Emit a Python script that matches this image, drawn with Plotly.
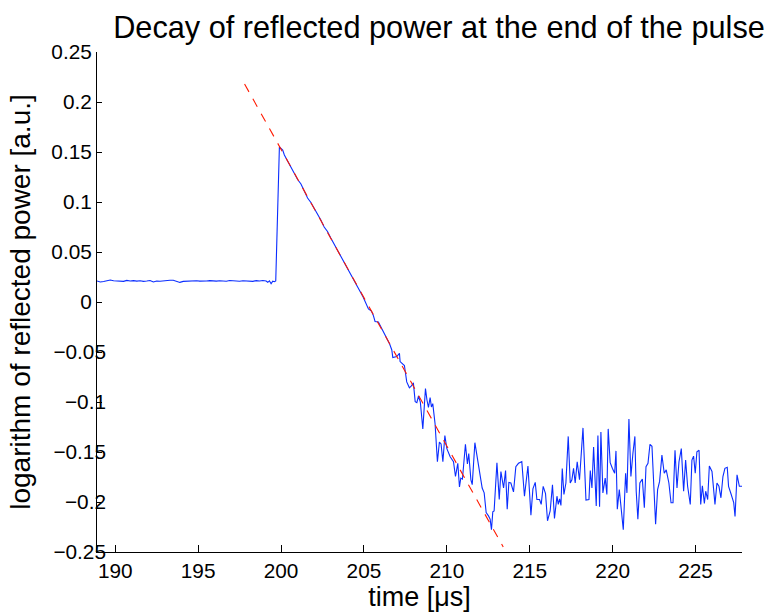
import plotly.graph_objects as go

# ---------------- data ----------------
base_t = [188.9, 189.1, 189.3, 189.5, 189.7, 189.9, 190.1, 190.3, 190.5, 190.7,
          190.9, 191.1, 191.3, 191.5, 191.7, 191.9, 192.1, 192.3, 192.5, 192.7,
          192.9, 193.1, 193.3, 193.5, 193.7, 193.9, 194.1, 194.3, 194.5, 194.7,
          194.9, 195.1, 195.3, 195.5, 195.7, 195.9, 196.1, 196.3, 196.5, 196.7,
          196.9, 197.1, 197.3, 197.5, 197.7, 197.9, 198.1, 198.3, 198.5, 198.7,
          198.9, 199.1, 199.2, 199.3, 199.4, 199.5, 199.6, 199.68]
base_y = [0.0210, 0.0200, 0.0205, 0.0215, 0.0220, 0.0212, 0.0208, 0.0210, 0.0206, 0.0216,
          0.0210, 0.0214, 0.0209, 0.0212, 0.0206, 0.0210, 0.0215, 0.0200, 0.0210, 0.0208,
          0.0213, 0.0211, 0.0217, 0.0218, 0.0208, 0.0196, 0.0206, 0.0209, 0.0212, 0.0208,
          0.0213, 0.0209, 0.0207, 0.0210, 0.0214, 0.0210, 0.0209, 0.0213, 0.0210, 0.0208,
          0.0215, 0.0210, 0.0212, 0.0207, 0.0213, 0.0209, 0.0212, 0.0206, 0.0214, 0.0210,
          0.0215, 0.0210, 0.0197, 0.0212, 0.0182, 0.0208, 0.0203, 0.0210]

decay_t = [199.9, 200.0, 200.1, 200.2, 200.4, 200.6, 200.8, 201.0, 201.2, 201.4,
           201.6, 201.8, 202.0, 202.2, 202.4, 202.6, 202.8, 203.0, 203.2, 203.4,
           203.6, 203.8, 204.0, 204.2, 204.4, 204.6, 204.77, 204.95, 205.27, 205.45,
           205.57, 205.67, 205.87, 206.17, 206.38, 206.55, 206.68, 206.74, 206.98, 207.14,
           207.18, 207.44, 207.58, 207.74, 207.86, 207.98, 208.09, 208.19, 208.29, 208.40,
           208.55, 208.71, 208.80, 208.89, 208.99, 209.07, 209.15, 209.29, 209.43, 209.55,
           209.65, 209.76, 209.88, 210.0, 210.2, 210.4, 210.52, 210.66, 210.76, 210.84,
           210.94, 211.12, 211.24, 211.32, 211.45, 211.53, 211.69, 211.85, 212.01, 212.13,
           212.25, 212.37, 212.51, 212.61, 212.69]
decay_y = [0.155, 0.1535, 0.152, 0.147, 0.141, 0.1335, 0.128, 0.1225, 0.118, 0.1115,
           0.104, 0.0995, 0.094, 0.088, 0.082, 0.075, 0.0705, 0.064, 0.058, 0.0525,
           0.0455, 0.040, 0.035, 0.028, 0.022, 0.017, 0.011, 0.005, -0.007, -0.009,
           -0.0136, -0.0195, -0.020, -0.0294, -0.0366, -0.042, -0.048, -0.0556, -0.0546, -0.0513,
           -0.0596, -0.0635, -0.0799, -0.0858, -0.084, -0.0809, -0.0996, -0.1006, -0.094, -0.100,
           -0.1269, -0.0865, -0.098, -0.1055, -0.0957, -0.105, -0.1016, -0.122, -0.1597, -0.140,
           -0.142, -0.1597, -0.1335, -0.1466, -0.1548, -0.1597, -0.1745, -0.1613, -0.185, -0.1761,
           -0.1771, -0.1423, -0.162, -0.1515, -0.1778, -0.1827, -0.1407, -0.158, -0.1712, -0.186,
           -0.1909, -0.2106, -0.2139, -0.2171, -0.2277]

noise_t = [212.77, 212.85, 213.02, 213.16, 213.26, 213.42, 213.54, 213.64, 213.74, 213.86,
           214.02, 214.16, 214.32, 214.52, 214.68, 214.89, 215.07, 215.19, 215.33, 215.43,
           215.59, 215.69, 215.81, 215.95, 216.07, 216.23, 216.37, 216.49, 216.64, 216.72,
           216.80, 216.88, 216.96, 217.06, 217.18, 217.32, 217.44, 217.54, 217.64, 217.74,
           217.86, 218.00, 218.21, 218.39, 218.57, 218.65, 218.75, 218.85, 219.01, 219.11,
           219.21, 219.29, 219.41, 219.55, 219.65, 219.73, 219.85, 219.98, 220.12, 220.20,
           220.28, 220.40, 220.52, 220.64, 220.78, 220.86, 220.98, 221.10, 221.22, 221.34,
           221.42, 221.52, 221.64, 221.79, 221.91, 222.01, 222.13, 222.25, 222.37, 222.47,
           222.59, 222.71, 222.83, 222.97, 223.11, 223.23, 223.39, 223.52, 223.64, 223.76,
           223.88, 224.00, 224.14, 224.28, 224.40, 224.52, 224.68, 224.78, 224.88, 224.98,
           225.08, 225.21, 225.31, 225.41, 225.53, 225.61, 225.73, 225.83, 225.99, 226.17,
           226.29, 226.41, 226.53, 226.65, 226.77, 226.91, 226.99, 227.14, 227.30, 227.38,
           227.50, 227.64, 227.80]
noise_y = [-0.2099, -0.209, -0.1607, -0.1975, -0.1695, -0.186, -0.1686, -0.2073, -0.1804, -0.181,
           -0.1899, -0.1646, -0.1613, -0.1597, -0.1942, -0.164, -0.2132, -0.1869, -0.1804, -0.1975,
           -0.1975, -0.2024, -0.1843, -0.1915, -0.2188, -0.209, -0.1827, -0.2165, -0.1942, -0.2024,
           -0.1968, -0.2034, -0.1666, -0.1925, -0.181, -0.1344, -0.181, -0.1778, -0.1663, -0.181,
           -0.1597, -0.1778, -0.1259, -0.1981, -0.1975, -0.1686, -0.186, -0.1449, -0.204, -0.1334,
           -0.2047, -0.1301, -0.1909, -0.1761, -0.1925, -0.1269, -0.1607, -0.1663, -0.1712, -0.1489,
           -0.2073, -0.1876, -0.205, -0.2277, -0.1712, -0.1909, -0.117, -0.1745, -0.1515, -0.1344,
           -0.1892, -0.2171, -0.181, -0.1771, -0.2057, -0.1646, -0.1613, -0.1423, -0.1443, -0.181,
           -0.2221, -0.1876, -0.1794, -0.1531, -0.1712, -0.1679, -0.181, -0.2007, -0.2007, -0.1482,
           -0.186, -0.1597, -0.1466, -0.1892, -0.158, -0.1843, -0.2024, -0.158, -0.1541, -0.1712,
           -0.1498, -0.1482, -0.2024, -0.1837, -0.2014, -0.1892, -0.1975, -0.164, -0.1695, -0.2024,
           -0.181, -0.1843, -0.1958, -0.1745, -0.1663, -0.1653, -0.1843, -0.192, -0.2007, -0.2145,
           -0.1728, -0.1843, -0.1843]

fit_t = [197.8, 213.4]
fit_y = [0.218, -0.245]

x_ticks = [190, 195, 200, 205, 210, 215, 220, 225]
y_pos_ticks = [0, 0.05, 0.1, 0.15, 0.2, 0.25]
y_pos_labels = ["0", "0.05", "0.1", "0.15", "0.2", "0.25"]
y_neg_ticks = [-0.25, -0.2, -0.15, -0.1, -0.05]
y_neg_labels = ["\u22120.25", "\u22120.2", "\u22120.15", "\u22120.1", "\u22120.05"]

title_text = "Decay of reflected power at the end of the pulse"
x_title = "time [\u03bcs]"
y_title = "logarithm of reflected power [a.u.]"

t_all = base_t + decay_t + noise_t
y_all = base_y + decay_y + noise_y

FONT = "Liberation Sans, Arial, Helvetica, sans-serif"
TICK = 20.8

fig = go.Figure()
fig.add_trace(go.Scatter(x=t_all, y=y_all, mode="lines",
                         line=dict(color="#0a2dff", width=1.1), showlegend=False))
fig.add_trace(go.Scatter(x=fit_t, y=fit_y, mode="lines",
                         line=dict(color="#ff1a00", width=1.1, dash="9px,8px"),
                         showlegend=False))
# helper invisible trace on second y axis for negative tick labels
fig.add_trace(go.Scatter(x=[None], y=[None], yaxis="y2", showlegend=False, hoverinfo="skip"))

fig.update_layout(
    width=770, height=615, autosize=False,
    margin=dict(l=97, r=28, t=52, b=55, pad=0),
    paper_bgcolor="white", plot_bgcolor="white",
    font=dict(family=FONT, color="black"),
    title=dict(text=title_text, font=dict(size=30.7, color="black", family=FONT),
               xref="container", x=439 / 770, xanchor="center",
               yref="container", y=1 - 27 / 615, yanchor="middle"),
    xaxis=dict(range=[188.9, 227.8], tickvals=x_ticks, ticks="inside", ticklen=7,
               tickcolor="black", showline=True, linecolor="black", linewidth=1,
               showgrid=False, zeroline=False, mirror=False,
               tickfont=dict(size=TICK, family=FONT, color="black"),
               title=dict(text=x_title, font=dict(size=27, family=FONT, color="black"),
                          standoff=2)),
    yaxis=dict(range=[-0.25, 0.25], tickvals=y_pos_ticks + y_neg_ticks,
               ticktext=y_pos_labels + [""] * len(y_neg_ticks),
               ticks="inside", ticklen=5,
               tickcolor="black", showline=True, linecolor="black", linewidth=1,
               showgrid=False, zeroline=False, mirror=False,
               tickfont=dict(size=TICK, family=FONT, color="black"),
               title=dict(text=y_title, font=dict(size=28, family=FONT, color="black"),
                          standoff=12)),
    yaxis2=dict(range=[-0.25, 0.25], overlaying="y", anchor="free", position=9 / 644.7,
                side="left", tickvals=y_neg_ticks, ticktext=y_neg_labels, ticks="",
                showline=False, showgrid=False, zeroline=False,
                tickfont=dict(size=TICK, family=FONT, color="black")),
)

fig.write_html("out.html")
